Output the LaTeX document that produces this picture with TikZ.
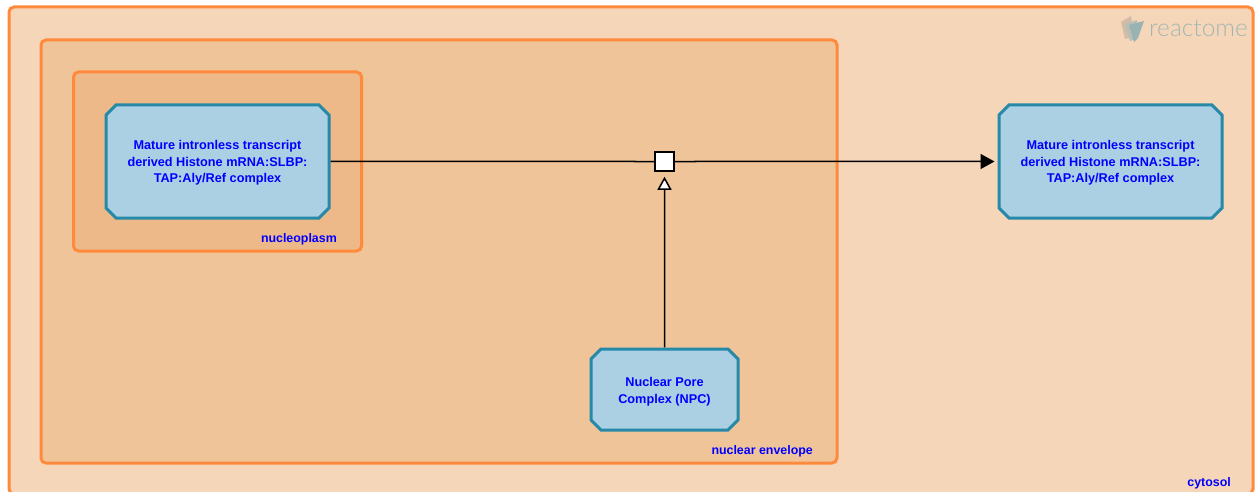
\documentclass[tikz,border=0pt]{standalone}
\usepackage{fontspec}
\setmainfont{Liberation Sans}
\newfontfamily\logofont{Lato Light}
\usetikzlibrary{shapes.misc, arrows.meta}
\definecolor{cytosolfill}{HTML}{F6D6B9}
\definecolor{envelopefill}{HTML}{F0C499}
\definecolor{plasmfill}{HTML}{EDB988}
\definecolor{comparteline}{HTML}{FF8A3C}
\definecolor{complexfill}{HTML}{ABD0E4}
\definecolor{complexline}{HTML}{2689A8}
\definecolor{labelblue}{HTML}{0000FF}

\begin{document}
\begin{tikzpicture}[x=1pt, y=-1pt, >=Stealth]

    \tikzstyle{compartment} = [rectangle, rounded corners=5pt, draw=comparteline, line width=3pt, inner sep=0pt, outer sep=0pt, anchor=north west]
    \tikzstyle{complexbox} = [chamfered rectangle, chamfered rectangle corners=all, chamfered rectangle xsep=5pt, chamfered rectangle ysep=5pt, draw=complexline, fill=complexfill, line width=3pt, inner sep=0pt, align=center, text=labelblue, font=\fontsize{12.7}{16.5}\selectfont\bfseries]
    \tikzstyle{complabel} = [anchor=base east, inner sep=0pt, text=labelblue, font=\fontsize{12.4}{14}\selectfont\bfseries]
    \tikzstyle{reaction} = [rectangle, minimum size=19pt, inner sep=0pt, draw=black, fill=white, line width=1.5pt]
    \tikzstyle{arrow} = [line width=1.5pt, ->, >={Triangle[length=14pt, width=15pt]}]
    \tikzstyle{catalyst} = [line width=1.5pt, ->, >={Triangle[open, fill=white, length=13pt, width=14pt]}]

    \useasboundingbox (0,0) rectangle (1255,492);
    \begin{scope}
    \clip (0,0) rectangle (1255,492);

    % Compartments
    \node (cytosol) [compartment, fill=cytosolfill, minimum width=1244pt, minimum height=487pt] at (9,7) {};
    \node (envelope) [compartment, fill=envelopefill, minimum width=796pt, minimum height=423pt] at (41,40) {};
    \node (plasm) [compartment, fill=plasmfill, minimum width=288pt, minimum height=179pt] at (73.5,72) {};
    \end{scope}

    % Labels
    \node (cytosollabel) [complabel] at (1231,486.5) {cytosol};
    \node (envelopelabel) [complabel] at (813,454.5) {nuclear envelope};
    \node (plasmlabel) [complabel] at (337,242.5) {nucleoplasm};

    % Logo
    \fill [gray!30!cytosolfill] (1121,22) -- (1131,16) -- (1134,36) -- (1125,39) -- cycle;
    \fill [complexline!30!cytosolfill] (1125,24) -- (1137,20) -- (1137,39) -- (1130,41) -- cycle;
    \fill [complexline!45!cytosolfill] (1129,25) -- (1144,21) -- (1138,38) -- (1134,42) -- cycle;
    \node (logo) [anchor=base west, inner sep=0pt, text=complexline!40!cytosolfill, font=\fontsize{24.5}{24.5}\logofont] at (1149,37) {reactome};

    % Nodes
    \node (source) [complexbox, text height=45pt, minimum width=223pt, minimum height=113pt] at (217.5,161.5) {Mature intronless transcript\\derived Histone mRNA:SLBP:\\TAP:Aly/Ref complex};
    \node (target) [complexbox, text height=45pt, minimum width=223pt, minimum height=113pt] at (1110.5,161.5) {Mature intronless transcript\\derived Histone mRNA:SLBP:\\TAP:Aly/Ref complex};
    \node (npc) [complexbox, text height=30pt, minimum width=147pt, minimum height=81pt] at (664.5,389.5) {Nuclear Pore\\Complex (NPC)};
    \node (transport) [reaction] at (664.5,161.5) {};

    % Arrows
    \draw [line width=1.5pt] (source) -- (transport);
    \draw [arrow, shorten >=3pt] (transport) -- (target);
    \draw [catalyst, shorten >=5pt] (npc) -- (transport);

\end{tikzpicture}
\end{document}
